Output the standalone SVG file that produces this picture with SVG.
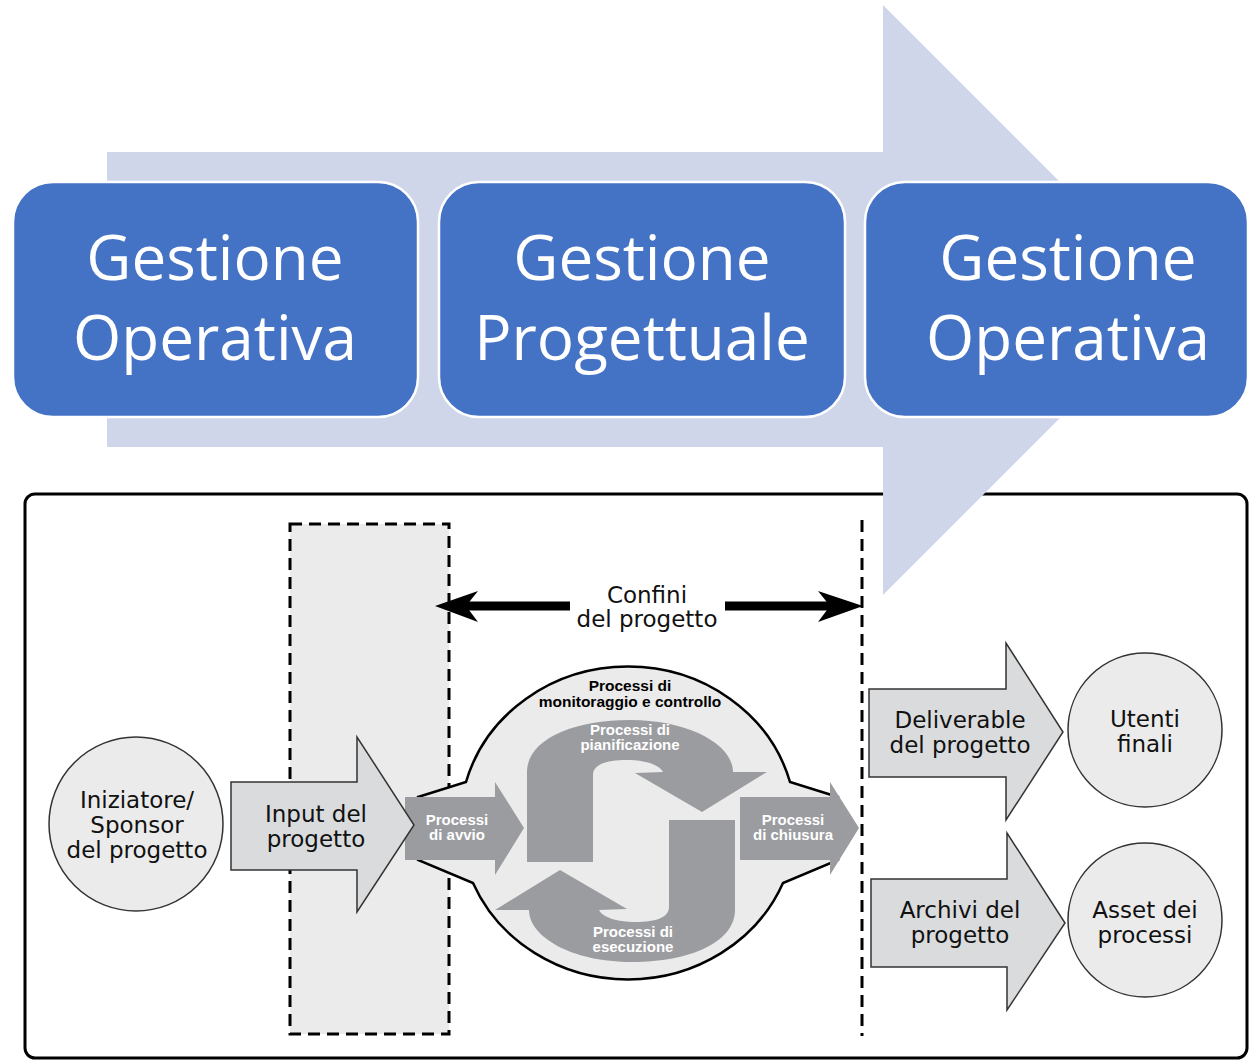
<svg xmlns="http://www.w3.org/2000/svg" width="1249" height="1063" viewBox="0 0 1249 1063">
<style>
.box{fill:#4472C4;stroke:#FFFFFF;stroke-width:2.5}
.big{font-family:"Open Sans","Liberation Sans",sans-serif;font-size:62px;fill:#FFFFFF;text-anchor:middle}
.lbl{font-family:"DejaVu Sans","Liberation Sans",sans-serif;font-size:23px;fill:#111111;text-anchor:middle}
.proc{font-family:"Liberation Sans","Arial",sans-serif;font-weight:bold;font-size:15px;fill:#FFFFFF;text-anchor:middle}
.procb{font-family:"Liberation Sans","Arial",sans-serif;font-weight:bold;font-size:15.5px;fill:#000000;text-anchor:middle}
.circ{fill:#EBEBEB;stroke:#333333;stroke-width:1.5}
.larrow{fill:#DADBDD;stroke:#333333;stroke-width:1.5}
.darrow{fill:#9B9C9F}
.dash{fill:none;stroke:#000000;stroke-width:3;stroke-dasharray:12 7}
</style>

<!-- outer bottom frame -->
<g id="frame">
<rect x="25" y="494" width="1222" height="564" rx="10" ry="10" fill="#FFFFFF" stroke="#000000" stroke-width="3"/>
</g>

<!-- big background arrow -->
<g id="flow-arrow">
<polygon points="107,152 883,152 883,5 1178,300 883,595 883,447 107,447" fill="#D0D6EA"/>
</g>

<!-- blue boxes -->
<g id="op1">
<rect class="box" x="13" y="182" width="405" height="235" rx="40" ry="40"/>
<text class="big" x="215" y="280">Gestione</text>
<text class="big" x="215" y="360">Operativa</text>
</g>
<g id="prog">
<rect class="box" x="439" y="182" width="406" height="235" rx="40" ry="40"/>
<text class="big" x="642" y="280">Gestione</text>
<text class="big" x="642" y="360">Progettuale</text>
</g>
<g id="op2">
<rect class="box" x="865" y="182" width="383" height="235" rx="40" ry="40"/>
<text class="big" x="1068" y="280">Gestione</text>
<text class="big" x="1068" y="360">Operativa</text>
</g>

<!-- project boundary region -->
<g id="input-zone">
<rect x="290" y="524" width="159" height="510" fill="#EBEBEB"/>
<rect class="dash" x="290" y="524" width="159" height="510"/>
</g>
<g id="boundary-line">
<line class="dash" x1="862" y1="520" x2="862" y2="1036"/>
</g>

<!-- central process blob -->
<g id="processes">
<path d="M 418,797 L 466,782 A 168 157 0 0 1 790,782 L 838,797 L 838,860 L 783,883 A 168 157 0 0 1 473,883 L 418,860 Z" fill="#EBEBEB" stroke="#000000" stroke-width="2.5"/>
<text class="procb" x="630" y="691">Processi di</text>
<text class="procb" x="630" y="707">monitoraggio e controllo</text>
<g id="planning">
<path class="darrow" d="M 527,862 L 527,772 C 527,740 572,720 630,720 C 690,720 733,745 733,772 L 767,772 L 702,812 L 635,773 L 663,772 C 660,765 645,760 627,760 C 605,760 593,765 593,775 L 593,862 Z"/>
<text class="proc" x="630" y="735">Processi di</text>
<text class="proc" x="630" y="750">pianificazione</text>
</g>
<g id="execution">
<path class="darrow" transform="rotate(180 631 841)" d="M 527,862 L 527,772 C 527,740 572,720 630,720 C 690,720 733,745 733,772 L 767,772 L 702,812 L 635,773 L 663,772 C 660,765 645,760 627,760 C 605,760 593,765 593,775 L 593,862 Z"/>
<text class="proc" x="633" y="937">Processi di</text>
<text class="proc" x="633" y="952">esecuzione</text>
</g>
</g>

<g id="avvio">
<polygon class="darrow" points="405,797 495,797 495,782 524,828 495,875 495,860 405,860"/>
<text class="proc" x="457" y="825">Processi</text>
<text class="proc" x="457" y="840">di avvio</text>
</g>
<g id="chiusura">
<polygon class="darrow" points="740,797 830,797 830,782 859,828 830,875 830,860 740,860"/>
<text class="proc" x="793" y="825">Processi</text>
<text class="proc" x="793" y="840">di chiusura</text>
</g>

<!-- left side -->
<g id="sponsor">
<circle class="circ" cx="136" cy="824" r="87"/>
<text class="lbl" x="137" y="808">Iniziatore/</text>
<text class="lbl" x="137" y="833">Sponsor</text>
<text class="lbl" x="137" y="858">del progetto</text>
</g>
<g id="input">
<polygon class="larrow" points="231,782 357,782 357,737 414,825 357,912 357,870 231,870"/>
<text class="lbl" x="316" y="822">Input del</text>
<text class="lbl" x="316" y="847">progetto</text>
</g>

<!-- right side -->
<g id="deliverable">
<polygon class="larrow" points="869,689 1006,689 1006,643 1063,732 1006,820 1006,777 869,777"/>
<text class="lbl" x="960" y="728">Deliverable</text>
<text class="lbl" x="960" y="753">del progetto</text>
</g>
<g id="utenti">
<circle class="circ" cx="1145" cy="730" r="77"/>
<text class="lbl" x="1145" y="727">Utenti</text>
<text class="lbl" x="1145" y="752">finali</text>
</g>
<g id="archivi">
<polygon class="larrow" points="871,879 1007,879 1007,833 1065,923 1007,1010 1007,967 871,967"/>
<text class="lbl" x="960" y="918">Archivi del</text>
<text class="lbl" x="960" y="943">progetto</text>
</g>
<g id="asset">
<circle class="circ" cx="1145" cy="920" r="77"/>
<text class="lbl" x="1145" y="918">Asset dei</text>
<text class="lbl" x="1145" y="943">processi</text>
</g>

<!-- project boundaries double arrow -->
<g id="connectors">
<line x1="462" y1="606" x2="570" y2="606" stroke="#000000" stroke-width="9"/>
<line x1="725" y1="606" x2="836" y2="606" stroke="#000000" stroke-width="9"/>
<polygon points="435,606 478,591 466,606 478,622" fill="#000000"/>
<polygon points="863,606 818,591 830,606 818,622" fill="#000000"/>
</g>
<g id="confini">
<text class="lbl" x="647" y="603">Confini</text>
<text class="lbl" x="647" y="627">del progetto</text>
</g>
</svg>
